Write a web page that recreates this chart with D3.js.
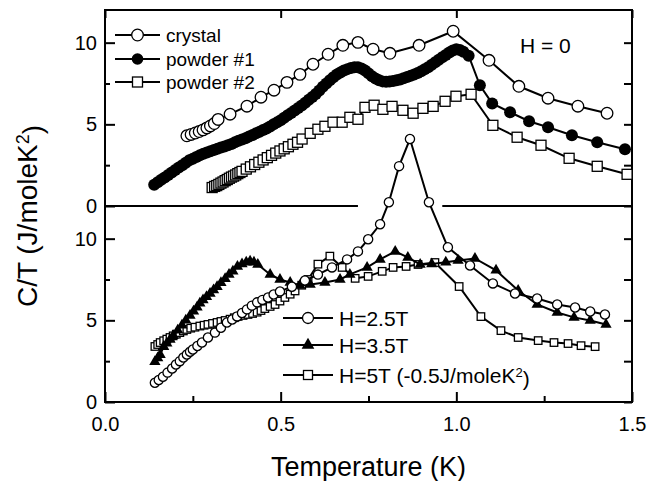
<!DOCTYPE html>
<html>
<head>
<meta charset="utf-8">
<script src="https://cdn.jsdelivr.net/npm/d3@7"></script>
<style>
  body { margin: 0; background: #fff; }
  svg { font-family: "Liberation Sans", Arial, sans-serif; }
</style>
</head>
<body>
<div id="chart"></div>
<script>
// données : [T (K), C/T (J/moleK2)]
const crystal = [[0.233,4.3],[0.245,4.38],[0.257,4.47],[0.268,4.56],[0.279,4.66],[0.29,4.78],[0.30,4.9],[0.311,5.05],[0.322,5.3],
  [0.356,5.62],[0.404,6.11],[0.444,6.66],[0.481,7.09],[0.518,7.57],[0.555,8.06],[0.592,8.68],[0.635,9.29],[0.677,9.84],
  [0.72,10.02],[0.763,9.6],[0.811,9.35],[0.894,9.84],[0.991,10.7],[1.093,8.92],[1.178,7.33],[1.261,6.6],[1.346,6.11],[1.429,5.68]];

const powder1 = [[0.14,1.3],[0.15,1.45],[0.16,1.6],[0.17,1.75],[0.18,1.9],[0.19,2.05],[0.20,2.2],[0.21,2.35],[0.22,2.5],
  [0.23,2.65],[0.24,2.8],[0.25,2.9],[0.26,3.0],[0.27,3.1],[0.28,3.2],[0.29,3.28],[0.30,3.35],[0.31,3.43],[0.32,3.5],
  [0.33,3.58],[0.34,3.65],[0.35,3.72],[0.36,3.8],[0.37,3.9],[0.38,4.0],[0.39,4.07],[0.40,4.15],[0.41,4.25],[0.42,4.35],
  [0.43,4.45],[0.44,4.55],[0.45,4.65],[0.46,4.75],[0.47,4.87],[0.48,5.0],[0.49,5.12],[0.50,5.25],[0.51,5.4],[0.52,5.55],
  [0.53,5.7],[0.54,5.85],[0.55,6.0],[0.56,6.15],[0.57,6.32],[0.58,6.5],[0.59,6.67],[0.60,6.85],[0.61,7.07],[0.62,7.3],
  [0.63,7.5],[0.64,7.7],[0.65,7.88],[0.66,8.05],[0.67,8.18],[0.68,8.3],[0.69,8.38],[0.70,8.45],[0.71,8.5],[0.72,8.5],
  [0.73,8.42],[0.74,8.3],[0.75,8.12],[0.76,7.95],[0.77,7.8],[0.78,7.7],[0.79,7.63],[0.80,7.6],[0.81,7.62],[0.82,7.65],
  [0.83,7.7],[0.84,7.75],[0.85,7.82],[0.86,7.9],[0.87,7.97],[0.88,8.05],[0.89,8.15],[0.90,8.25],[0.91,8.37],[0.92,8.5],
  [0.93,8.65],[0.94,8.8],[0.95,8.95],[0.96,9.1],[0.97,9.25],[0.98,9.4],[0.99,9.52],[1.0,9.6],[1.01,9.55],[1.02,9.45],
  [1.035,9.2],[1.067,7.39],[1.102,6.28],[1.153,5.74],[1.207,5.19],[1.261,4.82],[1.329,4.33],[1.401,3.9],[1.48,3.47]];

const powder2 = [[0.305,1.13],[0.312,1.2],[0.318,1.25],[0.324,1.32],[0.33,1.4],[0.336,1.47],[0.342,1.55],[0.348,1.62],
  [0.354,1.7],[0.36,1.77],[0.366,1.83],[0.372,1.9],[0.378,1.98],[0.384,2.05],[0.39,2.12],[0.402,2.26],[0.414,2.4],
  [0.426,2.54],[0.438,2.68],[0.45,2.82],[0.462,2.96],[0.474,3.1],[0.486,3.24],[0.498,3.37],[0.51,3.5],[0.522,3.63],
  [0.535,3.78],[0.548,3.9],[0.561,4.1],[0.584,4.45],[0.606,4.7],[0.626,4.88],[0.649,5.13],[0.675,5.13],[0.697,5.43],
  [0.72,5.31],[0.74,6.04],[0.766,6.17],[0.791,5.92],[0.817,6.1],[0.848,5.86],[0.877,5.68],[0.905,5.98],[0.934,6.1],
  [0.968,6.41],[0.999,6.72],[1.042,6.84],[1.104,4.94],[1.173,4.21],[1.241,3.72],[1.321,2.92],[1.401,2.43],[1.486,1.94]];

const h25 = [[0.142,1.18],[0.153,1.35],[0.165,1.55],[0.178,1.8],[0.191,2.05],[0.202,2.3],[0.213,2.5],[0.223,2.72],
  [0.233,2.91],[0.242,3.08],[0.25,3.21],[0.263,3.43],[0.276,3.64],[0.293,3.95],[0.313,4.25],[0.33,4.55],[0.347,4.87],
  [0.362,5.05],[0.376,5.24],[0.39,5.45],[0.404,5.67],[0.418,5.9],[0.433,6.1],[0.448,6.25],[0.464,6.4],[0.48,6.58],
  [0.498,6.77],[0.532,7.06],[0.569,7.44],[0.606,7.8],[0.646,8.24],[0.689,8.73],[0.72,9.22],[0.749,9.96],[0.783,10.88],
  [0.808,12.23],[0.837,14.44],[0.868,16.1],[0.922,12.23],[0.976,9.47],[1.039,8.36],[1.104,7.26],[1.167,6.64],[1.23,6.34],
  [1.287,5.97],[1.338,5.79],[1.381,5.54],[1.423,5.36]];

const h35 = [[0.142,2.47],[0.15,2.7],[0.157,2.9],[0.167,3.39],[0.176,3.6],[0.185,3.82],[0.194,4.05],[0.207,4.4],[0.219,4.7],
  [0.23,5.0],[0.242,5.3],[0.252,5.55],[0.262,5.8],[0.27,6.05],[0.279,6.25],[0.289,6.45],[0.299,6.65],[0.309,6.85],
  [0.319,7.05],[0.33,7.3],[0.342,7.55],[0.353,7.8],[0.364,8.0],[0.377,8.3],[0.39,8.45],[0.402,8.55],[0.413,8.61],
  [0.424,8.55],[0.435,8.42],[0.47,7.81],[0.498,7.5],[0.527,7.32],[0.555,7.14],[0.584,7.2],[0.626,7.32],[0.669,7.5],
  [0.697,7.81],[0.746,8.24],[0.783,8.73],[0.826,9.22],[0.862,8.85],[0.897,8.42],[0.93,8.45],[0.97,8.55],[1.005,8.67],
  [1.053,8.79],[1.113,8.06],[1.176,6.83],[1.23,5.97],[1.287,5.48],[1.335,5.18],[1.381,4.99],[1.426,4.74]];

const h5 = [[0.142,3.4],[0.15,3.52],[0.157,3.64],[0.167,3.75],[0.176,3.85],[0.185,3.95],[0.194,4.05],[0.203,4.15],
  [0.213,4.25],[0.223,4.35],[0.233,4.44],[0.244,4.52],[0.256,4.58],[0.27,4.65],[0.282,4.7],[0.293,4.75],[0.306,4.81],
  [0.319,4.87],[0.33,4.93],[0.342,4.99],[0.356,5.07],[0.368,5.16],[0.379,5.24],[0.393,5.3],[0.407,5.36],[0.42,5.42],
  [0.433,5.5],[0.444,5.6],[0.455,5.72],[0.47,5.85],[0.484,5.97],[0.498,6.18],[0.512,6.4],[0.527,6.6],[0.541,6.8],
  [0.56,7.15],[0.578,7.5],[0.606,8.44],[0.64,8.93],[0.675,8.24],[0.712,7.57],[0.749,7.69],[0.789,8.0],[0.82,8.24],
  [0.857,8.3],[0.891,8.42],[0.939,8.54],[1.008,7.07],[1.07,5.23],[1.127,4.37],[1.176,3.95],[1.233,3.76],[1.278,3.64],
  [1.318,3.58],[1.355,3.45],[1.395,3.39]];

const xTicks = [0, 0.5, 1.0, 1.5];
const xMinor = [0.25, 0.75, 1.25];
const yTicks = [0, 5, 10];
const yMinor = [2.5, 7.5];

// configuration
const W = 647, H = 481;
const margin = { top: 10, right: 15, bottom: 79, left: 105 };
const width = W - margin.left - margin.right;
const height = H - margin.top - margin.bottom;
const panelH = height / 2;

const svg = d3.select("#chart").append("svg")
    .attr("width", W)
    .attr("height", H);

const g = svg.append("g")
    .attr("transform", `translate(${margin.left},${margin.top})`);

// échelles
const x = d3.scaleLinear().domain([0, 1.5]).range([0, width]);
const yTop = d3.scaleLinear().domain([0, 12]).range([panelH, 0]);
const yBot = d3.scaleLinear().domain([0, 12]).range([height, panelH]);

// axes : graduations vers l'intérieur
function styleAxis(sel, fs) {
    sel.select(".domain").remove();
    sel.selectAll("line").attr("stroke", "#000").attr("stroke-width", 2);
    sel.selectAll("text").attr("font-size", fs).attr("fill", "#000");
}

[yTop, yBot].forEach(y => {
    g.append("g")
        .call(d3.axisLeft(y).tickValues(yTicks).tickSize(-10).tickPadding(8).tickFormat(d3.format("d")))
        .call(s => styleAxis(s, 20));
    g.append("g")
        .call(d3.axisLeft(y).tickValues(yMinor).tickSize(-5).tickFormat(""))
        .call(s => styleAxis(s, 20));
    g.append("g")
        .attr("transform", `translate(${width},0)`)
        .call(d3.axisRight(y).tickValues(yTicks.concat(yMinor)).tickSize(-8).tickFormat(""))
        .call(s => styleAxis(s, 20));
});

g.append("g")
    .attr("transform", `translate(0,${height})`)
    .call(d3.axisBottom(x).tickValues(xTicks).tickSize(-10).tickPadding(15).tickFormat(d3.format(".1f")))
    .call(s => styleAxis(s, 20));
g.append("g")
    .attr("transform", `translate(0,${height})`)
    .call(d3.axisBottom(x).tickValues(xMinor).tickSize(-6).tickFormat(""))
    .call(s => styleAxis(s, 20));
g.append("g")
    .call(d3.axisTop(x).tickValues(xTicks).tickSize(-8).tickFormat(""))
    .call(s => styleAxis(s, 20));

// cadre
g.append("rect")
    .attr("width", width)
    .attr("height", height)
    .attr("fill", "none")
    .attr("stroke", "#000")
    .attr("stroke-width", 2);

// ligne zéro du panneau du haut (interrompue par le pic)
[[0, 0.72], [0.96, 1.5]].forEach(seg => {
    g.append("line")
        .attr("x1", x(seg[0])).attr("x2", x(seg[1]))
        .attr("y1", yTop(0)).attr("y2", yTop(0))
        .attr("stroke", "#000").attr("stroke-width", 2);
});

// marqueurs
const tri = d3.symbol().type(d3.symbolTriangle);
function marker(sel, type, size) {
    if (type === "circle") {
        sel.append("circle").attr("r", size).attr("fill", "#fff").attr("stroke", "#000").attr("stroke-width", 1.3);
    } else if (type === "dot") {
        sel.append("circle").attr("r", size).attr("fill", "#000");
    } else if (type === "square") {
        sel.append("rect").attr("x", -size / 2).attr("y", -size / 2).attr("width", size).attr("height", size)
            .attr("fill", "#fff").attr("stroke", "#000").attr("stroke-width", 1.3);
    } else if (type === "triangle") {
        sel.append("path").attr("d", tri.size(size)()).attr("fill", "#000");
    }
}

function drawSeries(data, y, type, size) {
    const line = d3.line().x(d => x(d[0])).y(d => y(d[1]));
    g.append("path")
        .datum(data)
        .attr("fill", "none")
        .attr("stroke", "#000")
        .attr("stroke-width", 2)
        .attr("d", line);
    g.append("g").selectAll("g")
        .data(data)
        .enter()
        .append("g")
        .attr("transform", d => `translate(${x(d[0])},${y(d[1])})`)
        .each(function() { marker(d3.select(this), type, size); });
}

drawSeries(powder2, yTop, "square", 10);
drawSeries(powder1, yTop, "dot", 6);
drawSeries(crystal, yTop, "circle", 5.8);

drawSeries(h5, yBot, "square", 7.5);
drawSeries(h35, yBot, "triangle", 55);
drawSeries(h25, yBot, "circle", 4.6);

// légendes
function legend(items, x0, y0s, fs) {
    items.forEach((it, i) => {
        const row = svg.append("g").attr("transform", `translate(${x0},${y0s[i]})`);
        row.append("line").attr("x1", 0).attr("x2", it.len).attr("stroke", "#000").attr("stroke-width", 2);
        marker(row.append("g").attr("transform", `translate(${it.len / 2},0)`), it.type, it.size);
        const t = row.append("text")
            .attr("x", it.len + 6)
            .attr("dy", "0.36em")
            .attr("font-size", fs);
        t.append("tspan").text(it.label);
        if (it.sup) {
            t.append("tspan").attr("dy", "-0.45em").attr("font-size", fs * 0.62).text("2");
            t.append("tspan").attr("dy", "0.45em").text(")");
        }
    });
}

legend([
    { label: "crystal", type: "circle", size: 5.8, len: 45 },
    { label: "powder #1", type: "dot", size: 5.8, len: 45 },
    { label: "powder #2", type: "square", size: 10, len: 45 }
], 115, [35, 59, 82], 19);

legend([
    { label: "H=2.5T", type: "circle", size: 5.5, len: 50 },
    { label: "H=3.5T", type: "triangle", size: 70, len: 50 },
    { label: "H=5T (-0.5J/moleK", type: "square", size: 9, len: 50, sup: true }
], 283, [318, 345, 375], 21);

svg.append("text")
    .attr("x", 520)
    .attr("y", 45)
    .attr("dy", "0.36em")
    .attr("font-size", 21)
    .text("H = 0");

// titres des axes
svg.append("text")
    .attr("x", margin.left + width / 2)
    .attr("y", 476)
    .attr("text-anchor", "middle")
    .attr("font-size", 27)
    .text("Temperature (K)");

const yt = svg.append("text")
    .attr("transform", `translate(37,${margin.top + height / 2 + 10}) rotate(-90)`)
    .attr("text-anchor", "middle")
    .attr("font-size", 28);
yt.append("tspan").text("C/T (J/moleK");
yt.append("tspan").attr("dy", "-0.45em").attr("font-size", 18).text("2");
yt.append("tspan").attr("dy", "0.45em").text(")");
</script>
</body>
</html>
